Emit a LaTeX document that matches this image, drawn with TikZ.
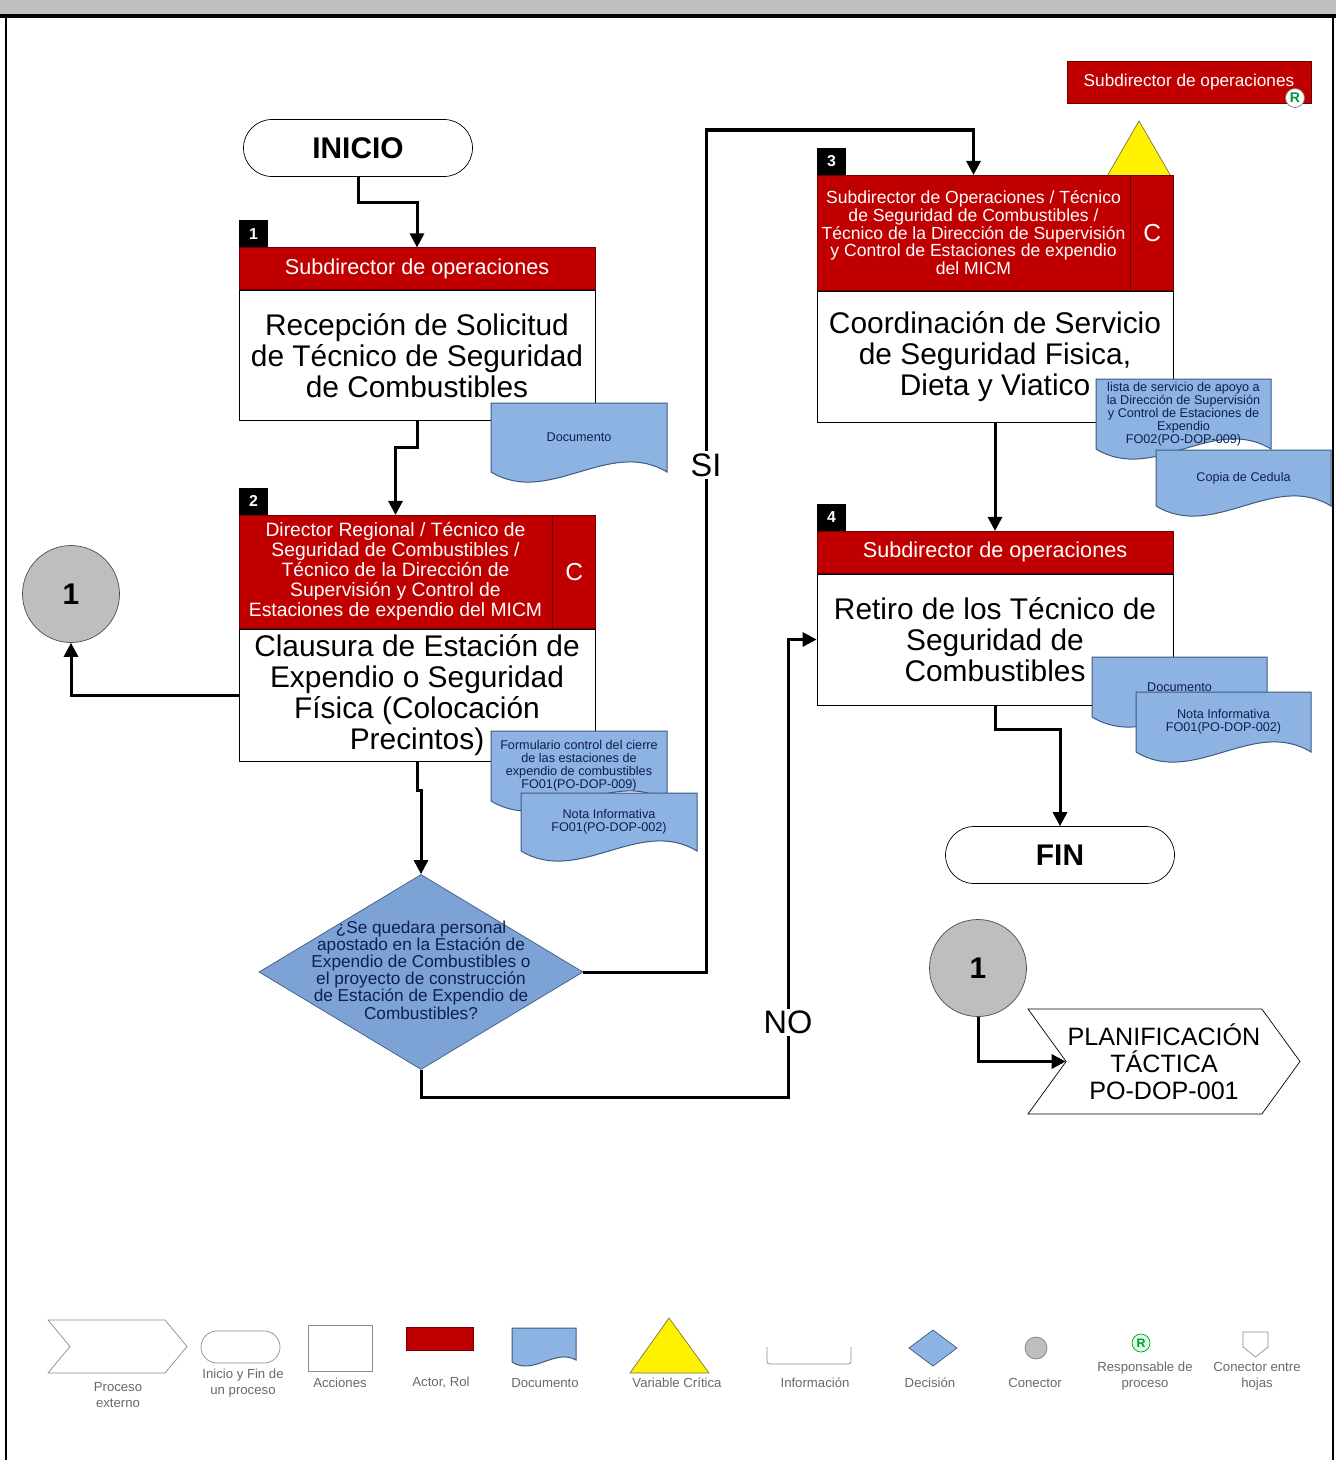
\documentclass[tikz,border=0pt]{standalone}
\usepackage{fontspec}
\setmainfont{Liberation Sans}
\usetikzlibrary{shapes, arrows.meta, positioning}
\newlength{\pxu}
\setlength{\pxu}{0.02cm}
\newcommand{\fs}[2]{\fontsize{#1}{#2}\selectfont}
\definecolor{rojoactor}{RGB}{192,0,0}
\definecolor{bordeactor}{RGB}{110,0,0}
\definecolor{azuldoc}{RGB}{141,179,226}
\definecolor{bordedoc}{RGB}{60,90,130}
\definecolor{azuldec}{RGB}{125,163,214}
\definecolor{textodoc}{RGB}{15,30,80}
\definecolor{grisbanda}{RGB}{191,191,191}
\definecolor{grisconector}{RGB}{190,190,190}
\definecolor{verderesp}{RGB}{0,150,60}
\definecolor{grisleyenda}{RGB}{105,105,105}
\tikzstyle{accion} = [draw=black, fill=white, minimum width=356\pxu, minimum height=131\pxu, inner sep=0pt, align=center, font=\fs{17}{17.6}]
\tikzstyle{actor} = [draw=bordeactor, fill=rojoactor, text=white, minimum width=356\pxu, minimum height=42\pxu, inner sep=0pt, align=center, font=\fs{12.3}{13}]
\tikzstyle{actorc} = [actor, minimum width=43\pxu, font=\fs{14}{15}]
\tikzstyle{numero} = [fill=black, text=white, minimum width=29\pxu, minimum height=27\pxu, inner sep=0pt, font=\fs{9}{9}\bfseries]
\tikzstyle{terminal} = [draw=black, fill=white, rounded rectangle, minimum width=229\pxu, minimum height=57\pxu, inner sep=0pt, font=\fs{17}{17}\bfseries]
\tikzstyle{decision} = [diamond, draw=bordedoc, fill=azuldec, minimum width=324\pxu, minimum height=195\pxu, inner sep=0pt]
\tikzstyle{dectexto} = [text=textodoc, align=center, inner sep=0pt, font=\fs{9.8}{9.8}]
\tikzstyle{conector} = [circle, draw=black!70, fill=grisconector, minimum size=97\pxu, inner sep=0pt, font=\fs{17}{17}\bfseries]
\tikzstyle{externo} = [signal, signal from=west, signal to=east, signal pointer angle=108, draw=black, fill=white, minimum width=272\pxu, minimum height=105\pxu, inner sep=0pt, align=center, font=\fs{14.3}{15.3}]
\tikzstyle{flecha} = [line width=3\pxu, -{Triangle[length=8pt, width=8pt]}]
\tikzstyle{etiqueta} = [fill=white, inner sep=2\pxu, font=\fs{18.5}{19}]
\tikzstyle{doclinea} = [draw=bordedoc, fill=azuldoc, line width=1\pxu]
\tikzstyle{doctexto} = [text=textodoc, align=center, inner sep=0pt, font=\fs{7.2}{7.4}]
\tikzstyle{leyenda} = [text=grisleyenda, align=center, inner sep=0pt, font=\fs{7.5}{9}]

% hoja de documento: nombre, izquierda, arriba, ancho, alto del lado, texto
\newcommand{\documento}[6]{%
  \filldraw[doclinea] (#2,#3) -- ({#2+#4},#3) -- ({#2+#4},{#3+#5})
    .. controls ({#2+0.67*#4},{#3+#5-35}) and ({#2+0.33*#4},{#3+#5+35}) .. (#2,{#3+#5}) -- cycle;
  \node[doctexto] (#1) at ({#2+0.5*#4},{#3+0.5*#5}) {#6};}

\begin{document}
\begin{tikzpicture}[x=\pxu, y=-\pxu]
\useasboundingbox (0,0) rectangle (1336,1460);
\fill[grisbanda] (0,0) rectangle (1336,14);
\draw[line width=4\pxu] (0,16) -- (1336,16);
\draw[line width=2\pxu] (6,16) -- (6,1460);
\draw[line width=2\pxu] (1333,16) -- (1333,1460);

\node[terminal] (ini) at (358,148) {INICIO};

% 1
\node[accion, minimum height=130\pxu] (a1) at (417,355.5) {Recepción de Solicitud\\de Técnico de Seguridad\\de Combustibles};
\node[actor, above=0pt of a1] (r1) {Subdirector de operaciones};
\node[numero, anchor=south west] (n1) at (r1.north west) {1};

% 2
\node[accion, minimum height=132\pxu] (a2) at (417,695) {Clausura de Estación de\\Expendio o Seguridad\\Física (Colocación\\Precintos)};
\node[actor, minimum width=313\pxu, minimum height=113\pxu, font=\fs{11}{11.4}, anchor=south west] (r2) at (a2.north west) {Director Regional / Técnico de\\Seguridad de Combustibles /\\Técnico de la Dirección de\\Supervisión y Control de\\Estaciones de expendio del MICM};
\node[actorc, minimum height=113\pxu, right=0pt of r2] (c2) {C};
\node[numero, anchor=south west] (n2) at (r2.north west) {2};

% 3
\filldraw[draw=black!60!yellow, fill=yellow] (1139,121) -- (1172,178) -- (1106,178) -- cycle;
\node[accion] (a3) at (995,356.5) {Coordinación de Servicio\\de Seguridad Fisica,\\Dieta y Viatico};
\node[actor, minimum width=313\pxu, minimum height=115\pxu, font=\fs{10}{10.1}, anchor=south west] (r3) at (a3.north west) {Subdirector de Operaciones / Técnico\\de Seguridad de Combustibles /\\Técnico de la Dirección de Supervisión\\y Control de Estaciones de expendio\\del MICM};
\node[actorc, minimum height=115\pxu, right=0pt of r3] (c3) {C};
\node[numero, anchor=south west] (n3) at (r3.north west) {3};

% 4
\node[accion] (a4) at (995,639.5) {Retiro de los Técnico de\\Seguridad de\\Combustibles};
\node[actor, above=0pt of a4] (r4) {Subdirector de operaciones};
\node[numero, anchor=south west] (n4) at (r4.north west) {4};

\node[actor, minimum width=244\pxu, font=\fs{9.8}{10}] (resp) at (1189,82) {Subdirector de operaciones};
\node[circle, draw=black!50, fill=white, text=verderesp, minimum size=19\pxu, inner sep=0pt, font=\fs{8}{8}\bfseries] (erre) at (1295,98) {R};

\documento{d1}{491}{403}{176}{69}{Documento}
\documento{d2a}{491}{731}{176}{70}{Formulario control del cierre\\de las estaciones de\\expendio de combustibles\\FO01(PO-DOP-009)}
\documento{d2b}{521}{793}{176}{58}{Nota Informativa\\FO01(PO-DOP-002)}
\documento{d3a}{1096}{379}{175}{70}{lista de servicio de apoyo a\\la Dirección de Supervisión\\y Control de Estaciones de\\Expendio\\FO02(PO-DOP-009)}
\documento{d3b}{1156}{450}{175}{56}{Copia de Cedula}
\documento{d4a}{1092}{657}{175}{60}{Documento}
\documento{d4b}{1136}{692}{175}{60}{Nota Informativa\\FO01(PO-DOP-002)}

\node[decision] (dec) at (421,972) {};
\node[dectexto] (dectxt) at (421,970) {¿Se quedara personal\\apostado en la Estación de\\Expendio de Combustibles o\\el proyecto de construcción\\de Estación de Expendio de\\Combustibles?};

\node[conector] (uno) at (71,594) {1};
\node[terminal] (fin) at (1060,855) {FIN};
\node[conector] (unob) at (978,968) {1};
\node[externo] (plan) at (1164,1061.5) {PLANIFICACIÓN\\TÁCTICA\\PO-DOP-001};

\coordinate (sicodo) at (706,130);
\coordinate (nocodo) at (788,1097);
\draw[flecha] (ini.south) -- ++(0,26) -| (r1.north);
\draw[flecha] (a1.south) -- ++(0,27) -| (r2.north);
\draw[flecha] (a2.west) -| (uno.south);
\draw[flecha] (a2.south) -- ++(0,29) -| (dec.north);
\draw[flecha] (dec.east) -| (sicodo) -| (r3.north);
\draw[flecha] (dec.south) |- (nocodo) |- (a4.west);
\draw[flecha] (a3.south) -- (r4.north);
\draw[flecha] (a4.south) -- ++(0,24) -| (fin.north);
\draw[flecha] (unob.south) |- (plan.west);
\node[etiqueta] (si) at (706,465) {SI};
\node[etiqueta] (no) at (788,1022) {NO};

% simbologia
\filldraw[draw=black!45, fill=white] (48,1320) -- (165,1320) -- (187,1346.5) -- (165,1373) -- (48,1373) -- (70,1346.5) -- cycle;
\draw[black!45, rounded corners=16\pxu] (201,1331) rectangle (280,1363);
\draw[black!45] (308,1325) rectangle (372,1371);
\filldraw[draw=bordeactor, fill=rojoactor] (406,1327) rectangle (473,1350);
\filldraw[doclinea] (512,1328) -- (576,1328) -- (576,1360) .. controls (555,1348) and (533,1376) .. (512,1362) -- cycle;
\filldraw[draw=black!60!yellow, fill=yellow] (669,1318) -- (709,1373) -- (630,1373) -- cycle;
\draw[black!45] (767,1347) -- (767,1358) .. controls (767,1364) .. (773,1364) -- (845,1364) .. controls (851,1364) .. (851,1358) -- (851,1347);
\filldraw[draw=bordedoc, fill=azuldoc] (933,1330) -- (957,1348) -- (933,1366) -- (909,1348) -- cycle;
\filldraw[draw=black!50, fill=grisconector] (1036,1348) circle[radius=11\pxu];
\node[circle, draw=verderesp, fill=green!15, text=verderesp, minimum size=18\pxu, inner sep=0pt, font=\fs{7}{7}\bfseries] (erreley) at (1141,1343) {R};
\draw[black!45] (1243,1332) -- (1268,1332) -- (1268,1347) -- (1255.5,1357) -- (1243,1347) -- cycle;
\node[leyenda] (lextern) at (118,1395) {Proceso\\externo};
\node[leyenda] (linicio) at (243,1383) {Inicio y Fin de\\un proceso};
\node[leyenda] (lacc) at (340,1383) {Acciones};
\node[leyenda] (lactor) at (441,1383) {Actor, Rol};
\node[leyenda] (ldoc) at (545,1383) {Documento};
\node[leyenda] (lvar) at (677,1383) {Variable Crítica};
\node[leyenda] (linfo) at (815,1383) {Información};
\node[leyenda] (ldec) at (930,1383) {Decisión};
\node[leyenda] (lcon) at (1035,1383) {Conector};
\node[leyenda] (lresp) at (1145,1376) {Responsable de\\proceso};
\node[leyenda] (lhojas) at (1257,1376) {Conector entre\\hojas};
\end{tikzpicture}
\end{document}
